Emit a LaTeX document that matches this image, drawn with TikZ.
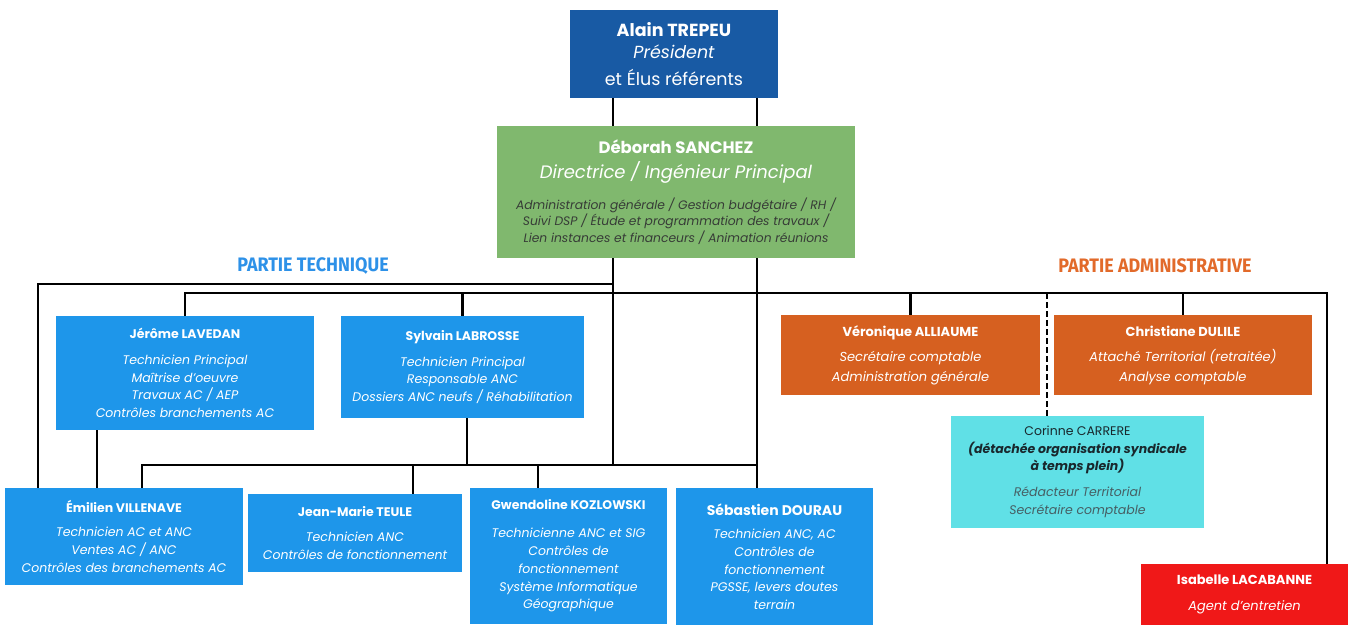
\documentclass[tikz,border=0pt]{standalone}
\usepackage{fontspec}
\usepackage{graphicx}
\setmainfont{Poppins}
\newfontfamily\labelfont{Fira Sans}
\usetikzlibrary{backgrounds}
\definecolor{cAlain}{RGB}{24,90,164}
\definecolor{cDeb}{RGB}{128,184,110}
\definecolor{cDebTxt}{RGB}{55,60,55}
\definecolor{cBlue}{RGB}{30,150,234}
\definecolor{cOrange}{RGB}{214,96,32}
\definecolor{cCyan}{RGB}{96,224,230}
\definecolor{cCorTxt}{RGB}{25,40,45}
\definecolor{cCorGray}{RGB}{70,95,100}
\definecolor{cRed}{RGB}{240,24,24}
\definecolor{cTech}{RGB}{45,145,232}
\definecolor{cAdmin}{RGB}{226,106,42}
\begin{document}
\begin{tikzpicture}[x=1pt,y=-1pt,
  box/.style={rectangle, inner sep=0pt, align=center, text=white},
  bluebox/.style={box, fill=cBlue, font=\fontsize{12.5}{17.8}\selectfont\itshape},
  orangebox/.style={box, fill=cOrange, font=\fontsize{13}{20}\selectfont\itshape},
  conn/.style={line width=2.7pt, black},
  heading/.style={inner sep=0pt, font=\labelfont\bfseries\fontsize{19.5}{20}\selectfont}
]
\useasboundingbox (0,0) rectangle (1352,624);
\clip (0,0) rectangle (1352,624);

% top
\node[box, fill=cAlain, minimum width=208pt, minimum height=88pt,
  font=\fontsize{17.5}{22}\selectfont] (alain) at (674,54)
  {{\bfseries Alain TREPEU}\\ {\itshape Président}\\[5pt] et Élus référents};

\node[box, fill=cDeb, minimum width=358pt, minimum height=132pt,
  font=\fontsize{12.3}{16.5}\selectfont] (deb) at (676,192)
  {{\bfseries\fontsize{16.5}{16.5}\selectfont Déborah SANCHEZ}\\[7.5pt]
   {\itshape\fontsize{18}{16.5}\selectfont Directrice / Ingénieur Principal}\\[14pt]
   {\itshape\color{cDebTxt}Administration générale / Gestion budgétaire / RH /}\\
   {\itshape\color{cDebTxt}Suivi DSP / Étude et programmation des travaux /}\\
   {\itshape\color{cDebTxt}Lien instances et financeurs / Animation réunions}};

% headings
\node[heading, text=cTech] (ht) at (313,266) {\scalebox{0.92}[1]{PARTIE TECHNIQUE}};
\node[heading, text=cAdmin] (ha) at (1155,266) {\scalebox{0.92}[1]{PARTIE ADMINISTRATIVE}};

% technical
\node[bluebox, minimum width=258pt, minimum height=114pt] (jer) at (185,373)
  {{\upshape\bfseries Jérôme LAVEDAN}\\[8pt]
   Technicien Principal\\ Maîtrise d'oeuvre\\ Travaux AC / AEP\\ Contrôles branchements AC};
\node[bluebox, minimum width=243pt, minimum height=102pt] (sylv) at (462.5,367)
  {{\upshape\bfseries Sylvain LABROSSE}\\[8pt]
   Technicien Principal\\ Responsable ANC\\ Dossiers ANC neufs / Réhabilitation};
\node[bluebox, minimum width=238pt, minimum height=97pt] (emil) at (124,536.5)
  {{\upshape\bfseries Émilien VILLENAVE}\\[6pt]
   Technicien AC et ANC\\ Ventes AC / ANC\\ Contrôles des branchements AC};
\node[bluebox, minimum width=214pt, minimum height=78pt] (jm) at (355,533)
  {{\upshape\bfseries Jean-Marie TEULE}\\[8pt]
   Technicien ANC\\ Contrôles de fonctionnement};
\node[bluebox, minimum width=197pt, minimum height=136pt] (gw) at (568.5,556)
  {{\upshape\bfseries Gwendoline KOZLOWSKI}\\[10pt]
   Technicienne ANC et SIG\\ Contrôles de\\ fonctionnement\\ Système Informatique\\ Géographique};
\node[bluebox, minimum width=197pt, minimum height=138pt] (seb) at (774.5,557)
  {{\upshape\bfseries\fontsize{14}{17.8}\selectfont Sébastien DOURAU}\\[5pt]
   Technicien ANC, AC\\ Contrôles de\\ fonctionnement\\ PGSSE, levers doutes\\ terrain};

% administrative
\node[orangebox, minimum width=259pt, minimum height=80pt] (vero) at (910.5,355)
  {{\upshape\bfseries Véronique ALLIAUME}\\[5pt]
   Secrétaire comptable\\ Administration générale};
\node[orangebox, minimum width=258pt, minimum height=80pt] (chris) at (1183,355)
  {{\upshape\bfseries Christiane DULILE}\\[5pt]
   Attaché Territorial (retraitée)\\ Analyse comptable};
\node[box, fill=cCyan, text=cCorTxt, minimum width=253pt, minimum height=112pt,
  font=\fontsize{12.5}{17.5}\selectfont] (cor) at (1077.5,472)
  {Corinne CARRERE\\
   {\bfseries\itshape (détachée organisation syndicale}\\
   {\bfseries\itshape à temps plein)}\\[8.5pt]
   {\itshape\color{cCorGray}Rédacteur Territorial}\\
   {\itshape\color{cCorGray}Secrétaire comptable}};
\node[box, fill=cRed, minimum width=207pt, minimum height=68pt,
  font=\fontsize{13}{20}\selectfont] (isa) at (1244.5,598)
  {{\bfseries Isabelle LACABANNE}\\[6pt] {\itshape Agent d'entretien}\\[-10pt]};

% connectors
\coordinate (t1) at (38,284);
\coordinate (t1r) at (613,284);
\coordinate (t2) at (185,293);
\coordinate (t2r) at (1327,293);
\coordinate (t3) at (142,465);
\coordinate (t3r) at (757,465);
\coordinate (dx) at (1047,293);
\coordinate (jx) at (97,465);
\coordinate (sx) at (467,465);
\coordinate (jmx) at (413,465);
\coordinate (gx) at (538,465);

\begin{scope}[on background layer]
\fill[white] (0,0) rectangle (1352,624);
\draw[conn] (alain.south -| t1r) -- (deb.north -| t1r);
\draw[conn] (alain.south -| t3r) -- (deb.north -| t3r);
\draw[conn] (deb.south -| t1r) -- (t3 -| t1r);
\draw[conn] (deb.south -| t3r) -- (seb.north -| t3r);
\draw[conn] (emil.north -| t1) -- (t1) -- (t1r);
\draw[conn] (jer.north -| t2) -- (t2) -- (t2r) -- (isa.north -| t2r);
\draw[conn] (sylv.north |- t2) -- (sylv.north);
\draw[conn] (vero.north |- t2) -- (vero.north);
\draw[conn] (chris.north |- t2) -- (chris.north);
\draw[conn, dash pattern=on 6pt off 3pt] (dx) -- (cor.north -| dx);
\draw[conn] (jer.south -| jx) -- (emil.north -| jx);
\draw[conn] (sylv.south -| sx) -- (sx);
\draw[conn] (emil.north -| t3) -- (t3) -- (t3r);
\draw[conn] (jmx) -- (jm.north -| jmx);
\draw[conn] (gx) -- (gw.north -| gx);
\end{scope}
\end{tikzpicture}
\end{document}
